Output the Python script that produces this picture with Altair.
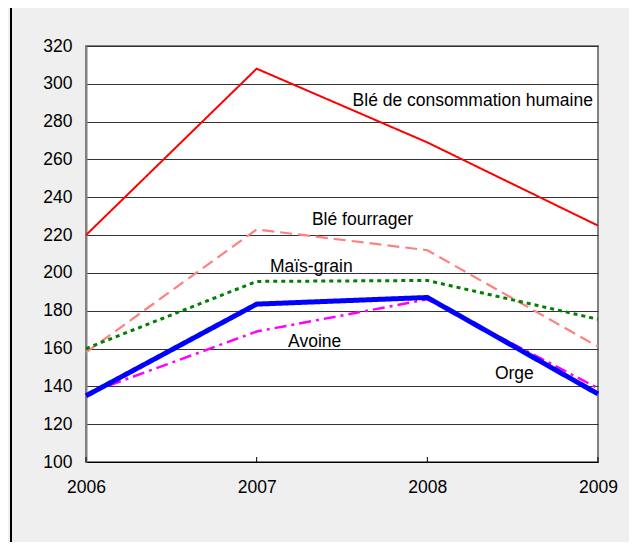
import altair as alt
import pandas as pd

years = [2006, 2007, 2008, 2009]
ble_conso = [220, 308, 269, 225]
ble_fourrager = [158, 223, 212, 161]
mais_grain = [160, 195.5, 196, 175.5]
avoine = [136, 169, 186, 139]
orge = [135, 183.5, 187, 136]

series_names = ["Blé de consommation humaine", "Blé fourrager", "Maïs-grain", "Avoine", "Orge"]
series_values = [ble_conso, ble_fourrager, mais_grain, avoine, orge]
series_colors = ["#ff0000", "#ff8080", "#008000", "#ff00ff", "#0000ff"]
series_dash = [[1, 0], [12, 6], [4, 4], [12, 5, 3, 5], [1, 0]]
series_width = [2, 2.2, 3, 2.5, 5]

y_ticks = [100, 120, 140, 160, 180, 200, 220, 240, 260, 280, 300, 320]

label_text = ["Blé de consommation humaine", "Blé fourrager", "Maïs-grain", "Avoine", "Orge"]
label_x = [2008.97, 2007.62, 2007.32, 2007.34, 2008.51]
label_y = [291, 228, 203, 163.5, 146.5]
label_align = ["right", "center", "center", "center", "center"]

FONT = "Liberation Sans"
FS = 17.5
W, H = 512, 416

xscale = alt.Scale(domain=[2006, 2009], nice=False, zero=False)
yscale = alt.Scale(domain=[100, 320], nice=False, zero=False)

xaxis = alt.Axis(values=years, format="d", title=None, grid=False,
                 domainColor="#000000", tickSize=0,
                 labelPadding=16, labelFontSize=FS, labelFont=FONT,
                 labelColor="#000000", labelFlush=False, labelOverlap=False)
yaxis = alt.Axis(values=y_ticks, title=None, grid=True,
                 gridColor="#333333", gridWidth=1, domainColor="#808080",
                 domainWidth=2, ticks=False, labelPadding=14,
                 labelFontSize=FS, labelFont=FONT, labelColor="#000000",
                 labelOverlap=False)

layers = []
for name, vals, col, dash, sw in zip(series_names, series_values, series_colors, series_dash, series_width):
    df = pd.DataFrame({"year": years, "value": vals, "series": name})
    layers.append(
        alt.Chart(df).mark_line(color=col, strokeDash=dash, strokeWidth=sw, clip=False).encode(
            x=alt.X("year:Q", scale=xscale, axis=xaxis),
            y=alt.Y("value:Q", scale=yscale, axis=yaxis),
        )
    )

ticks_df = pd.DataFrame({"year": years})
ticks = alt.Chart(ticks_df).mark_rule(color="#000000", strokeWidth=1).encode(
    x=alt.X("year:Q", scale=xscale, axis=xaxis),
    y=alt.value(H - 5),
    y2=alt.value(H),
)

lab_df = pd.DataFrame({"text": label_text, "x": label_x, "y": label_y, "align": label_align})
labels_right = alt.Chart(lab_df[lab_df["align"] == "right"]).mark_text(
    align="right", baseline="middle", fontSize=FS, font=FONT, color="#000000"
).encode(x=alt.X("x:Q", scale=xscale, axis=xaxis), y=alt.Y("y:Q", scale=yscale, axis=yaxis), text="text:N")
labels_center = alt.Chart(lab_df[lab_df["align"] == "center"]).mark_text(
    align="center", baseline="middle", fontSize=FS, font=FONT, color="#000000"
).encode(x=alt.X("x:Q", scale=xscale, axis=xaxis), y=alt.Y("y:Q", scale=yscale, axis=yaxis), text="text:N")

border = alt.Chart(ticks_df).mark_rule(color="#000000", strokeWidth=1.5).encode(
    x=alt.value(-75), y=alt.value(-38), y2=alt.value(H + 80)
)

chart = alt.layer(border, *layers, ticks, labels_right, labels_center).properties(
    width=W, height=H,
    background="#efefef",
    padding={"left": 78, "top": 38, "right": 31, "bottom": 80},
    autosize=alt.AutoSizeParams(type="none"),
).configure_view(
    fill="#ffffff", stroke="#808080", strokeWidth=2
)

chart.save("out.html", embed_options={"renderer": "svg", "actions": False})
